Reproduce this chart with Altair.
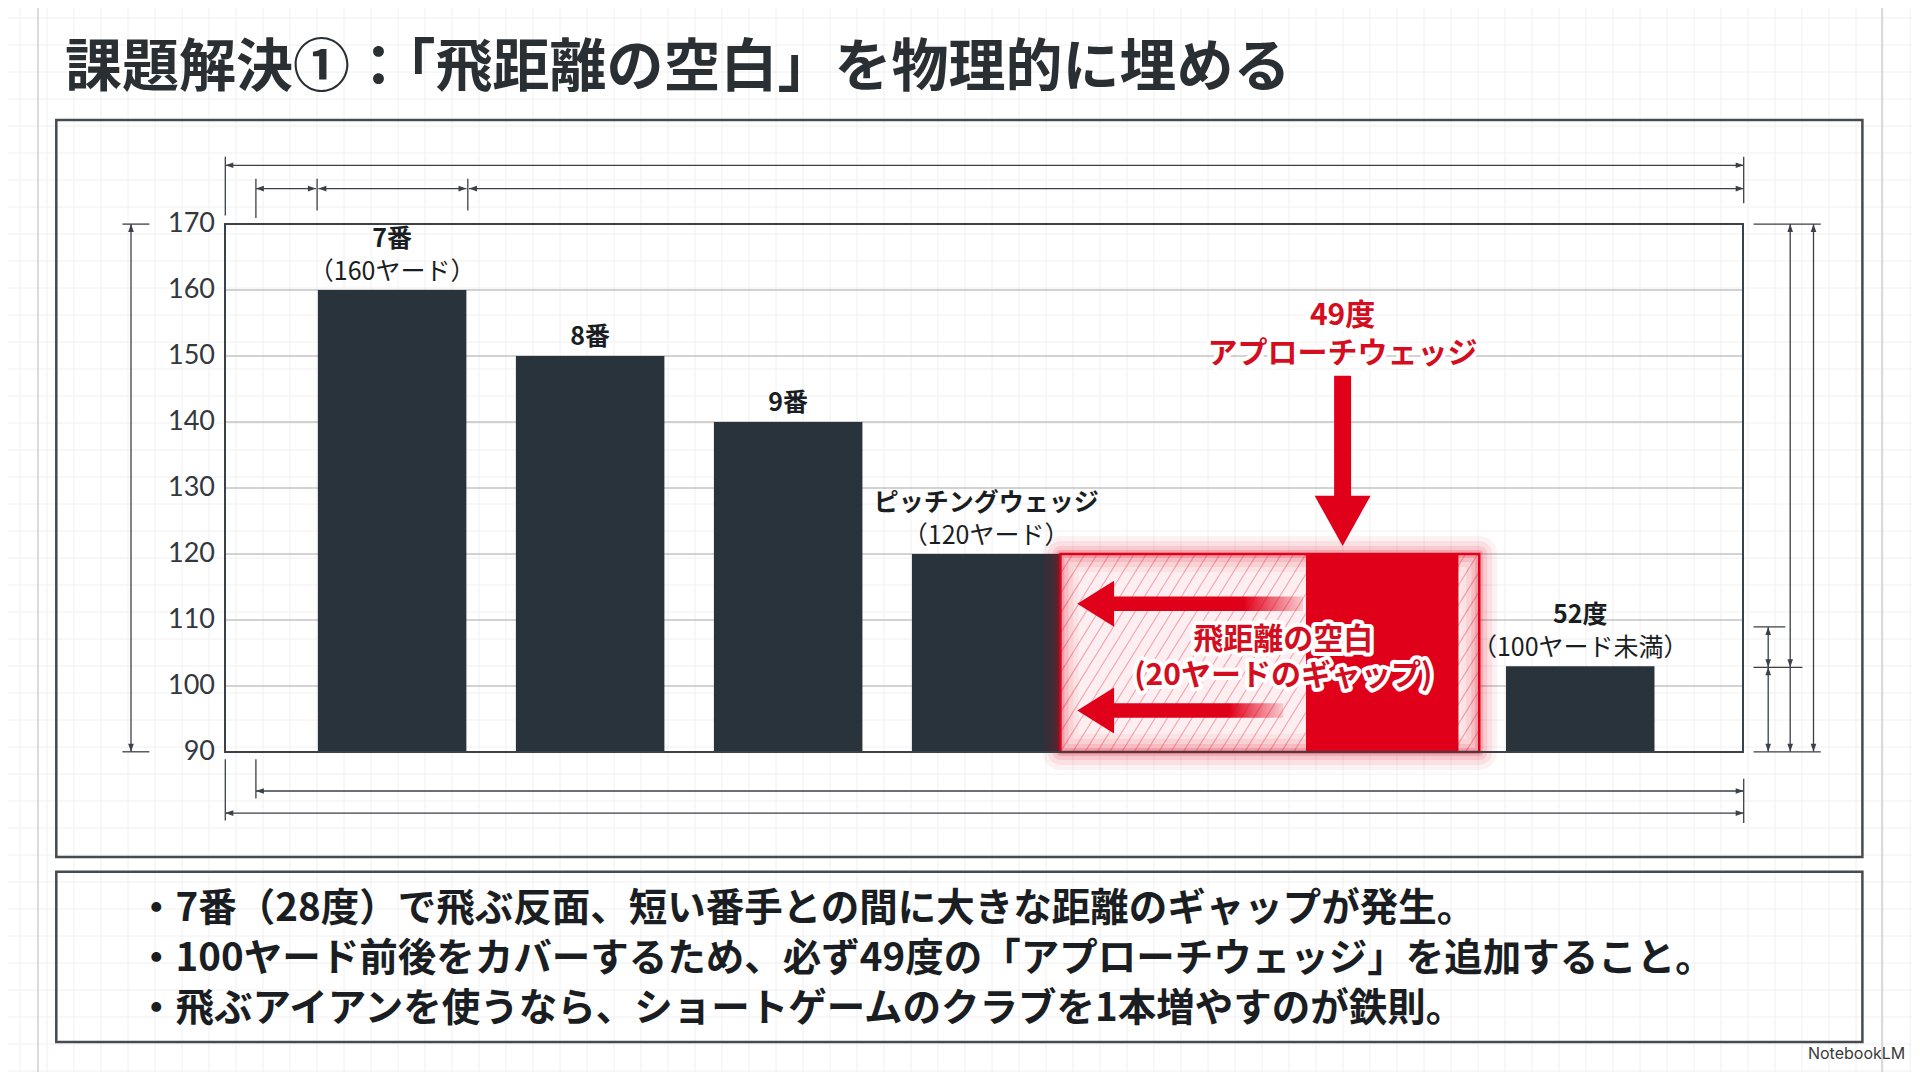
import pandas as pd
import altair as alt

# values
club_names = ["7番", "8番", "9番", "ピッチングウェッジ", "52度"]
club_notes = ["（160ヤード）", "", "", "（120ヤード）", "（100ヤード未満）"]
carry_yards = [160, 150, 140, 120, 103]
club_slots = [1, 2, 3, 4, 7]

added_text = "49度\nアプローチウェッジ"
added_slot = [6]
added_yards = [120]

gap_text = "飛距離の空白\n(20ヤードのギャップ)"
gap_span = [4.375, 6.49]
gap_top = [120]

y_ticks = [90, 100, 110, 120, 130, 140, 150, 160, 170]

title_text = "課題解決①：「飛距離の空白」を物理的に埋める"
bullet_lines = [
    "・7番（28度）で飛ぶ反面、短い番手との間に大きな距離のギャップが発生。",
    "・100ヤード前後をカバーするため、必ず49度の「アプローチウェッジ」を追加すること。",
    "・飛ぶアイアンを使うなら、ショートゲームのクラブを1本増やすのが鉄則。",
]

# layout: the sketch was measured on a 1568 wide copy, scale to the 1920 screen
S = 1920 / 1568
PAD_L, PAD_T = 217, 216
W, H = 1518, 528
PAD_R, PAD_B = 1904 - PAD_L - W, 1064 - PAD_T - H


def px(v):
    return round(v * S - 8 - PAD_L, 1)


def py(v):
    return round(v * S - 8 - PAD_T, 1)


JP = "Noto Sans CJK JP"
NUM = "Lato"
INK = "#3b4147"
BAR = "#29333b"
RED = "#e1001a"
TXT = "#1a1e22"
ONE = pd.DataFrame({"k": [0]})

x_scale = alt.Scale(domain=[0.156, 7.822], nice=False, zero=False)
y_scale = alt.Scale(domain=[90, 170], nice=False, zero=False)


def XQ(field):
    return alt.X(field, scale=x_scale, axis=None)


def YQ(field):
    return alt.Y(field, scale=y_scale, axis=None)


def pix_rules(df, color, width):
    return alt.Chart(df).mark_rule(color=color, strokeWidth=width).encode(
        x=alt.X("x:Q", scale=None), x2="x2:Q",
        y=alt.Y("y:Q", scale=None), y2="y2:Q",
    )


def pix_text(text, x, y, size, color, weight="normal", align="left", font=JP):
    return alt.Chart(ONE).mark_text(
        text=text, font=font, fontSize=size, fontWeight=weight, color=color,
        align=align, baseline="middle",
    ).encode(x=alt.value(x), y=alt.value(y))


# ---- background paper grid and page lines ----
bg_rows = [{"x": gx - PAD_L, "x2": gx - PAD_L, "y": -PAD_T, "y2": 1064 - PAD_T}
           for gx in range(12, 1904, 27)]
bg_rows += [{"x": -PAD_L, "x2": 1904 - PAD_L, "y": gy - PAD_T, "y2": gy - PAD_T}
            for gy in range(10, 1064, 27)]
paper = pix_rules(pd.DataFrame(bg_rows), "#f0f0f0", 1)
page_lines = pix_rules(pd.DataFrame([
    {"x": 30 - PAD_L, "x2": 30 - PAD_L, "y": -PAD_T, "y2": 1064 - PAD_T},
    {"x": 1874 - PAD_L, "x2": 1874 - PAD_L, "y": -PAD_T, "y2": 1064 - PAD_T},
]), "#cdd0d3", 1.5)

# ---- frames ----
frames_df = pd.DataFrame([
    {"x": px(46), "x2": px(1521), "y": py(98), "y2": py(700)},
    {"x": px(46), "x2": px(1521), "y": py(712), "y2": py(851)},
])
frames = alt.Chart(frames_df).mark_rect(
    fillOpacity=0, stroke="#454b51", strokeWidth=2.5
).encode(
    x=alt.X("x:Q", scale=None), x2="x2:Q", y=alt.Y("y:Q", scale=None), y2="y2:Q"
)
plot_border = alt.Chart(ONE).mark_rect(
    fillOpacity=0, stroke=INK, strokeWidth=2
).encode(x=alt.value(0), x2=alt.value(W), y=alt.value(0), y2=alt.value(H))

# ---- dimension lines (drafting decoration) ----
segs = [
    (184, 135, 1424, 135),
    (209, 154, 258, 154), (260, 154, 381, 154), (383, 154, 1424, 154),
    (184, 128, 184, 176), (1424, 128, 1424, 166),
    (209, 146, 209, 178), (259, 146, 259, 172), (382, 146, 382, 172),
    (107, 183, 107, 614), (100, 183, 122, 183), (100, 614, 122, 614),
    (209, 646, 1424, 646), (184, 664, 1424, 664),
    (209, 620, 209, 652), (184, 620, 184, 670), (1424, 636, 1424, 672),
    (1444, 512, 1444, 614), (1462, 183, 1462, 614), (1481, 183, 1481, 614),
    (1432, 183, 1487, 183), (1432, 512, 1458, 512),
    (1432, 545, 1472, 545), (1432, 614, 1487, 614),
]
dims = pix_rules(pd.DataFrame(
    [{"x": px(a), "y": py(b), "x2": px(c), "y2": py(d)} for a, b, c, d in segs]
), INK, 1.3)

HEADS = {
    "l": "M0,0L2,-0.7L2,0.7Z",
    "r": "M0,0L-2,-0.7L-2,0.7Z",
    "u": "M0,0L-0.7,2L0.7,2Z",
    "d": "M0,0L-0.7,-2L0.7,-2Z",
}
tips = [
    (184, 135, "l"), (1424, 135, "r"),
    (209, 154, "l"), (258, 154, "r"), (260, 154, "l"), (381, 154, "r"),
    (383, 154, "l"), (1424, 154, "r"),
    (107, 183, "u"), (107, 614, "d"),
    (209, 646, "l"), (1424, 646, "r"), (184, 664, "l"), (1424, 664, "r"),
    (1444, 512, "u"), (1444, 545, "d"), (1444, 545, "u"), (1444, 614, "d"),
    (1462, 183, "u"), (1462, 545, "d"), (1462, 614, "d"),
    (1481, 183, "u"), (1481, 614, "d"),
]
dim_heads = alt.Chart(pd.DataFrame(
    [{"x": px(a), "y": py(b), "shape": HEADS[k]} for a, b, k in tips]
)).mark_point(filled=True, color=INK, opacity=1, size=64).encode(
    x=alt.X("x:Q", scale=None), y=alt.Y("y:Q", scale=None),
    shape=alt.Shape("shape:N", scale=None),
)

# ---- y grid and tick labels, drawn through the y scale ----
ticks_df = pd.DataFrame({"tick": y_ticks})
grid = alt.Chart(ticks_df).mark_rule(color="#a6a6a6", strokeWidth=1).encode(
    y=YQ("tick:Q")
)
tick_labels = alt.Chart(ticks_df).mark_text(
    font=NUM, fontSize=27, color="#33383d", align="right", baseline="middle"
).encode(y=YQ("tick:Q"), x=alt.value(-10), text="tick:Q")

# ---- the bars ----
bars_df = pd.DataFrame({
    "club": club_names, "note": club_notes,
    "yards": carry_yards, "slot": club_slots,
})
bars = alt.Chart(bars_df).transform_calculate(
    lo="datum.slot - 0.375", hi="datum.slot + 0.375", floor="90"
).mark_rect(color=BAR).encode(
    x=XQ("lo:Q"), x2="hi:Q", y=YQ("yards:Q"), y2="floor:Q",
)


def text_layer(filter_expr, field, dy, weight):
    return alt.Chart(bars_df).transform_filter(filter_expr).mark_text(
        font=JP, fontSize=25, fontWeight=weight, color=TXT, dy=dy,
        baseline="middle",
    ).encode(x=XQ("slot:Q"), y=YQ("yards:Q"), text=f"{field}:N")


name_hi = text_layer("datum.note != ''", "club", -51, "bold")
name_lo = text_layer("datum.note == ''", "club", -19, "bold")
note_lo = text_layer("datum.note != ''", "note", -18, "normal")

# ---- the gap zone and the added 49 degree wedge ----
gap_df = pd.DataFrame({"ax": [gap_span[0]], "ax2": [gap_span[1]],
                       "ay": [90], "ay2": gap_top})


def gap_rect(**mark):
    return alt.Chart(gap_df).mark_rect(**mark).encode(
        x=XQ("ax:Q"), x2="ax2:Q", y=YQ("ay:Q"), y2="ay2:Q",
    )


pink = gap_rect(color="#fdeff1")

# diagonal hatch clipped to the gap zone
hatch_rows = []
k = 0.62 / 30.0
c = gap_span[0] - 0.62
while c < gap_span[1]:
    ya = max(90.0, 90 + (gap_span[0] - c) / k)
    yb = min(120.0, 90 + (gap_span[1] - c) / k)
    if yb > ya:
        hatch_rows.append({"ax": c + (ya - 90) * k, "ay": ya,
                           "ax2": c + (yb - 90) * k, "ay2": yb})
    c += 0.062
hatch = alt.Chart(pd.DataFrame(hatch_rows)).mark_rule(
    color="#f2a7ae", strokeWidth=1.2
).encode(x=XQ("ax:Q"), x2="ax2:Q", y=YQ("ay:Q"), y2="ay2:Q")

added_df = pd.DataFrame({"slot": added_slot, "yards": added_yards})
red_bar = alt.Chart(added_df).transform_calculate(
    lo="datum.slot - 0.385", hi="datum.slot + 0.385", floor="90"
).mark_rect(color=RED).encode(
    x=XQ("lo:Q"), x2="hi:Q", y=YQ("yards:Q"), y2="floor:Q",
)

glow = [
    gap_rect(fillOpacity=0, stroke=RED, strokeWidth=w, strokeOpacity=o,
             strokeJoin="round")
    for w, o in [(36, 0.05), (26, 0.07), (16, 0.1), (8, 0.16)]
]
outline = gap_rect(fillOpacity=0, stroke=RED, strokeWidth=2.5)

# left pointing arrows inside the gap
shaft_df = pd.DataFrame({"ax": [4.6, 4.6], "ax2": [5.6, 5.5],
                         "ay": [113.55, 97.4], "ay2": [111.35, 95.2]})
grad = alt.Gradient(
    gradient="linear", x1=0, x2=1, y1=0, y2=0,
    stops=[alt.GradientStop(color=RED, offset=0),
           alt.GradientStop(color=RED, offset=0.7),
           alt.GradientStop(color="rgba(225,0,26,0.15)", offset=1)],
)
shafts = alt.Chart(shaft_df).mark_rect(fill=grad).encode(
    x=XQ("ax:Q"), x2="ax2:Q", y=YQ("ay:Q"), y2="ay2:Q",
)
left_heads = alt.Chart(pd.DataFrame({"ax": [4.46, 4.46], "ay": [112.45, 96.3]})).mark_point(
    shape="M0,0L1.6,-1L1.6,1Z", filled=True, color=RED, opacity=1, size=2116
).encode(x=XQ("ax:Q"), y=YQ("ay:Q"))

# big downward arrow onto the wedge
down_shaft = alt.Chart(pd.DataFrame({"ax": [5.8], "ay": [147.0], "ay2": [127.0]})).mark_rule(
    color=RED, strokeWidth=17
).encode(x=XQ("ax:Q"), y=YQ("ay:Q"), y2="ay2:Q")
down_head = alt.Chart(pd.DataFrame({"ax": [5.8], "ay": [121.2]})).mark_point(
    shape="M0,0L-1,-1.8L1,-1.8Z", filled=True, color=RED, opacity=1, size=3136
).encode(x=XQ("ax:Q"), y=YQ("ay:Q"))


def red_label(text, ax, ay, size, line_h):
    df = pd.DataFrame({"ax": [ax], "ay": [ay]})
    common = dict(text=text, font=JP, fontSize=size, fontWeight="bold",
                  lineBreak="\n", lineHeight=line_h, align="center",
                  baseline="middle")
    enc = dict(x=XQ("ax:Q"), y=YQ("ay:Q"))
    halo = alt.Chart(df).mark_text(color="white", stroke="white",
                                   strokeWidth=8, strokeJoin="round",
                                   **common).encode(**enc)
    front = alt.Chart(df).mark_text(color="#d40d20", **common).encode(**enc)
    return [halo, front]


added_lbl = red_label(added_text, 5.8, 156.1, 30, 38)
gap_lbl = red_label(gap_text, 5.5, 106.9, 30, 36)

# ---- title, notes box text, footer ----
title = pix_text(title_text, px(53), py(56), 57, "#2a2f34", weight="bold")
bullets = [
    pix_text(t, px(112), py(yc), 38.5, TXT, weight="bold")
    for t, yc in zip(bullet_lines, [742, 783, 824])
]
footer = pix_text("NotebookLM", px(1556), py(861), 16, "#3a3a3a",
                  align="right", font="Inter")

chart = alt.layer(
    paper, page_lines, frames, dims, dim_heads, grid, tick_labels,
    pink, hatch, bars, red_bar, *glow, outline, plot_border,
    shafts, left_heads, down_shaft, down_head,
    name_hi, name_lo, note_lo, *added_lbl, *gap_lbl,
    title, *bullets, footer,
).properties(
    width=W, height=H,
    autosize=alt.AutoSizeParams(type="none"),
    padding={"left": PAD_L, "top": PAD_T, "right": PAD_R, "bottom": PAD_B},
    background="white",
).configure_view(strokeWidth=0)

chart.save("out.html", embed_options={"renderer": "svg", "actions": False})
